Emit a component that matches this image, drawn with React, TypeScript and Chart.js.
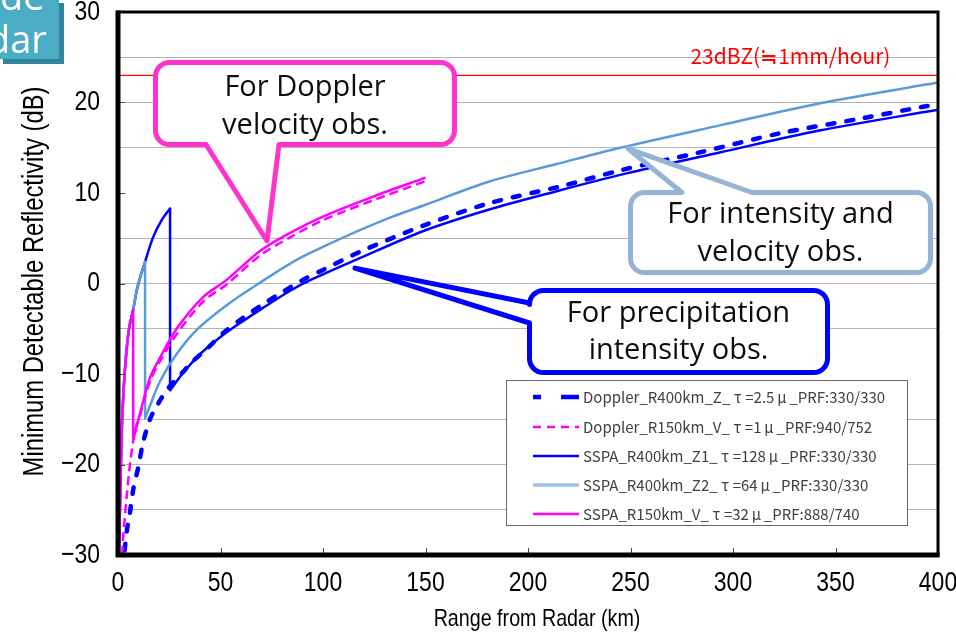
import React, { useEffect, useRef } from "react";
import { Chart, registerables } from "chart.js";

Chart.register(...registerables);

// ---------------- data ----------------
const xTickValues = [0, 50, 100, 150, 200, 250, 300, 350, 400];
const yTickValues = [-30, -20, -10, 0, 10, 20, 30];

const legendLabels = [
  "Doppler_R400km_Z_τ=2.5μ_PRF:330/330",
  "Doppler_R150km_V_τ=1μ_PRF:940/752",
  "SSPA_R400km_Z1_τ=128μ_PRF:330/330",
  "SSPA_R400km_Z2_τ=64μ_PRF:330/330",
  "SSPA_R150km_V_τ=32μ_PRF:888/740",
];

const dopplerZRange = [3.2, 4.4, 5.9, 7.4, 9.9, 12.2, 15.6, 19.5, 24.4, 31.2, 36, 43.4, 52.2, 61, 70.7, 80.5, 90.2, 100, 118, 149, 180, 217, 245, 284, 323, 364, 392, 400];
const dopplerZDb = [-29.5, -27.2, -25.2, -22.8, -20.3, -17.6, -15.0, -13.3, -11.6, -9.9, -8.7, -7.2, -5.3, -3.8, -2.3, -0.9, 0.4, 1.5, 3.5, 6.4, 8.8, 10.8, 12.5, 14.5, 16.6, 18.3, 19.5, 19.8];

const dopplerVRange = [2.0, 2.4, 4.2, 5.9, 8.3, 10.7, 15.6, 20.5, 28.6, 41.5, 53, 69.3, 84, 100, 124.5, 150];
const dopplerVDb = [-30, -28.4, -23.6, -19.9, -16.2, -14.6, -10.8, -8.6, -5.6, -2.0, -0.1, 3.1, 5.1, 7.0, 9.2, 11.3];

// short-pulse (near range) part shared by the three SSPA curves
const sspaNearRange = [0.4, 1.0, 1.8, 2.8, 4.0, 5.4, 7.4, 9.5, 13.2, 17.1, 21.3, 25.4];
const sspaNearDb = [-30, -24.5, -16.5, -11.5, -7.8, -5.0, -2.9, -0.4, 2.4, 5.1, 7.0, 8.3];

const sspaZ1FarRange = [25.4, 28, 32, 40, 50, 60, 70, 84, 95, 116, 149, 181.5, 214, 245, 294, 342, 400];
const sspaZ1FarDb = [-11.8, -11.0, -9.8, -7.8, -5.9, -4.3, -2.8, -0.8, 0.5, 2.6, 5.8, 8.2, 10.2, 12.0, 14.5, 16.9, 19.2];

const sspaZ2FarRange = [13.2, 15.6, 20.5, 28.6, 38.5, 53, 69.3, 84, 94, 113, 133, 150, 181.5, 214, 245, 294, 342, 400];
const sspaZ2FarDb = [-14.9, -13.5, -10.8, -7.8, -5.1, -2.4, 0.1, 2.2, 3.4, 5.4, 7.3, 8.7, 11.3, 13.2, 15.0, 17.5, 19.9, 22.2];

const sspaVFarRange = [7.4, 10.7, 15.6, 20.5, 28.6, 41.5, 53, 69.3, 84, 100, 124.5, 150];
const sspaVFarDb = [-17.3, -14.4, -10.4, -8.2, -5.0, -1.5, 0.4, 3.6, 5.6, 7.4, 9.6, 11.7];

// where each SSPA curve leaves the short-pulse part (range, km)
const sspaZ1SwitchKm = 25.4;
const sspaZ2SwitchKm = 13.2;
const sspaVSwitchKm = 7.4;

const thresholdRange = [0, 400];
const thresholdDb = [23, 23];
const thresholdLabel = "23dBZ(≒1mm/hour)";

// ---------------- styles ----------------
const W = 956;
const H = 636;
const AXIS_FONT = "'Liberation Sans', Arial, sans-serif";
const CALLOUT_FONT = "'Open Sans', 'Noto Sans', sans-serif";
const LEGEND_FONT = "'Noto Sans CJK JP', 'Noto Sans', sans-serif";
const NARROW = 0.82; // horizontal squeeze for the condensed axis lettering

const DARK_BLUE = "#0000FF";
const LIGHT_BLUE = "#5B9BD5";
const MAGENTA = "#FF00FF";

const pts = (xs: number[], ys: number[]) => xs.map((x, i) => ({ x, y: ys[i] }));
const nearUpTo = (km: number) => {
  const n = sspaNearRange.indexOf(km) + 1;
  return pts(sspaNearRange.slice(0, n), sspaNearDb.slice(0, n));
};
const dropAt = (km: number, farRange: number[], farDb: number[]) => {
  const i = sspaNearRange.indexOf(km);
  return [
    { x: sspaNearRange[i], y: sspaNearDb[i] },
    { x: farRange[0], y: farDb[0] },
  ];
};

const fmt = (v: number) => (v < 0 ? "\u2212" + Math.abs(v) : String(v));

function drawNarrow(ctx: CanvasRenderingContext2D, text: string, x: number, y: number, size: number, align: CanvasTextAlign, rotate = 0) {
  ctx.save();
  ctx.translate(x, y);
  if (rotate) ctx.rotate(rotate);
  ctx.scale(NARROW, 1);
  ctx.font = `${size}px ${AXIS_FONT}`;
  ctx.fillStyle = "#000";
  ctx.textAlign = align;
  ctx.textBaseline = "middle";
  ctx.fillText(text, 0, 0);
  ctx.restore();
}

type Callout = {
  lines: string[];
  color: string;
  box: { x: number; y: number; w: number; h: number };
  side: "top" | "bottom" | "left";
  b1: number;
  b2: number;
  tip: { x: number; y: number }; // data coordinates
  textY: number[];
};

const callouts: Callout[] = [
  {
    lines: ["For Doppler", "velocity obs."],
    color: "#FF33CC",
    box: { x: 155.5, y: 62.5, w: 299, h: 82 },
    side: "bottom",
    b1: 206,
    b2: 279,
    tip: { x: 72.7, y: 4.7 },
    textY: [88, 126],
  },
  {
    lines: ["For intensity and", "velocity obs."],
    color: "#95B3D7",
    box: { x: 630.5, y: 192.5, w: 300, h: 80 },
    side: "top",
    b1: 682,
    b2: 752,
    tip: { x: 248.8, y: 14.9 },
    textY: [215, 253],
  },
  {
    lines: ["For precipitation", "intensity obs."],
    color: "#0000FF",
    box: { x: 529.5, y: 290.5, w: 298, h: 82 },
    side: "left",
    b1: 303,
    b2: 323,
    tip: { x: 115.6, y: 1.7 },
    textY: [314, 351],
  },
];

function drawCallout(ctx: CanvasRenderingContext2D, c: Callout, tx: number, ty: number) {
  const { x, y, w, h } = c.box;
  const r = 14;
  ctx.save();
  ctx.beginPath();
  ctx.moveTo(x + r, y);
  if (c.side === "top") {
    ctx.lineTo(c.b1, y);
    ctx.lineTo(tx, ty);
    ctx.lineTo(c.b2, y);
  }
  ctx.lineTo(x + w - r, y);
  ctx.arcTo(x + w, y, x + w, y + r, r);
  ctx.lineTo(x + w, y + h - r);
  ctx.arcTo(x + w, y + h, x + w - r, y + h, r);
  if (c.side === "bottom") {
    ctx.lineTo(c.b2, y + h);
    ctx.lineTo(tx, ty);
    ctx.lineTo(c.b1, y + h);
  }
  ctx.lineTo(x + r, y + h);
  ctx.arcTo(x, y + h, x, y + h - r, r);
  if (c.side === "left") {
    ctx.lineTo(x, c.b2);
    ctx.lineTo(tx, ty);
    ctx.lineTo(x, c.b1);
  }
  ctx.lineTo(x, y + r);
  ctx.arcTo(x, y, x + r, y, r);
  ctx.closePath();
  ctx.fillStyle = "#FFFFFF";
  ctx.fill();
  ctx.lineWidth = 5;
  ctx.lineJoin = "round";
  ctx.strokeStyle = c.color;
  ctx.stroke();
  ctx.fillStyle = "#0D0D0D";
  ctx.font = `29px ${CALLOUT_FONT}`;
  ctx.textAlign = "center";
  ctx.textBaseline = "middle";
  c.lines.forEach((t, i) => ctx.fillText(t, x + w / 2, c.textY[i]));
  ctx.restore();
}

// legend text: Greek letters set in full-width cells as in the reference
function drawLegendText(ctx: CanvasRenderingContext2D, text: string, x: number, y: number, size: number) {
  let cx = x;
  let run = "";
  const flush = () => {
    if (run) {
      ctx.textAlign = "left";
      ctx.fillText(run, cx, y);
      cx += ctx.measureText(run).width;
      run = "";
    }
  };
  for (const ch of text) {
    if (ch === "τ" || ch === "μ") {
      flush();
      ctx.textAlign = "center";
      ctx.fillText(ch, cx + size / 2, y);
      cx += size;
    } else {
      run += ch;
    }
  }
  flush();
}

const decorPlugin = {
  id: "decor",
  beforeDraw(chart: any) {
    const ctx = chart.ctx as CanvasRenderingContext2D;
    ctx.save();
    ctx.fillStyle = "#FFFFFF";
    ctx.fillRect(0, 0, chart.width, chart.height);
    ctx.restore();
  },
  afterDatasetsDraw(chart: any) {
    const ctx = chart.ctx as CanvasRenderingContext2D;
    const { left, right, top, bottom } = chart.chartArea;
    const xs = chart.scales.x;
    const ys = chart.scales.y;

    // threshold label
    ctx.save();
    ctx.fillStyle = "#FF0000";
    ctx.font = `21px ${LEGEND_FONT}`;
    ctx.textAlign = "center";
    ctx.textBaseline = "middle";
    ctx.fillText(thresholdLabel, xs.getPixelForValue(328), ys.getPixelForValue(25) - 1);
    ctx.restore();

    // inner tick marks
    ctx.save();
    ctx.strokeStyle = "#444";
    ctx.lineWidth = 1;
    ctx.beginPath();
    yTickValues.forEach((v) => {
      const py = Math.round(ys.getPixelForValue(v)) + 0.5;
      ctx.moveTo(left, py);
      ctx.lineTo(left + 7, py);
    });
    xTickValues.forEach((v) => {
      const px = Math.round(xs.getPixelForValue(v)) + 0.5;
      ctx.moveTo(px, bottom);
      ctx.lineTo(px, bottom - 7);
    });
    ctx.stroke();
    ctx.restore();

    // frame
    ctx.save();
    ctx.strokeStyle = "#000";
    ctx.lineWidth = 3;
    ctx.strokeRect(left, top, right - left, bottom - top);
    ctx.lineWidth = 5;
    ctx.beginPath();
    ctx.moveTo(left, top - 1.5);
    ctx.lineTo(left, bottom);
    ctx.lineTo(right + 1.5, bottom);
    ctx.stroke();
    ctx.restore();

    // tick labels (condensed lettering)
    yTickValues.forEach((v) => drawNarrow(ctx, fmt(v), left - 18, ys.getPixelForValue(v), 28, "right"));
    xTickValues.forEach((v) => drawNarrow(ctx, fmt(v), xs.getPixelForValue(v), bottom + 28, 28, "center"));

    // legend
    ctx.save();
    ctx.fillStyle = "#FFFFFF";
    ctx.fillRect(506, 380, 402, 146);
    ctx.strokeStyle = "#666";
    ctx.lineWidth = 1;
    ctx.strokeRect(506.5, 380.5, 401, 145);
    const rowY = [397, 427, 456, 485, 514];
    const sx0 = 533;
    const sx1 = 579;
    legendLabels.forEach((lab, i) => {
      const y = rowY[i];
      ctx.save();
      ctx.beginPath();
      if (i === 0) {
        ctx.strokeStyle = DARK_BLUE;
        ctx.lineWidth = 4.5;
        ctx.moveTo(sx0, y);
        ctx.lineTo(sx0 + 8, y);
        ctx.moveTo(sx0 + 28, y);
        ctx.lineTo(sx1, y);
      } else if (i === 1) {
        ctx.strokeStyle = MAGENTA;
        ctx.lineWidth = 2.5;
        ctx.setLineDash([8, 6]);
        ctx.moveTo(sx0, y);
        ctx.lineTo(sx1, y);
      } else {
        ctx.strokeStyle = i === 2 ? DARK_BLUE : i === 3 ? "#9DC3E6" : MAGENTA;
        ctx.lineWidth = i === 3 ? 3.5 : 2.5;
        ctx.moveTo(sx0, y);
        ctx.lineTo(sx1, y);
      }
      ctx.stroke();
      ctx.restore();
      ctx.fillStyle = "#404040";
      ctx.font = `15px ${LEGEND_FONT}`;
      ctx.textBaseline = "middle";
      drawLegendText(ctx, lab, 583, y, 15);
    });
    ctx.restore();

    // callouts
    callouts.forEach((c) => {
      drawCallout(ctx, c, xs.getPixelForValue(c.tip.x), ys.getPixelForValue(c.tip.y));
    });
  },
  afterDraw(chart: any) {
    const ctx = chart.ctx as CanvasRenderingContext2D;
    const { top, bottom } = chart.chartArea;
    // axis titles
    drawNarrow(ctx, "Range from Radar (km)", 537, 619, 24, "center");
    drawNarrow(ctx, "Minimum Detectable Reflectivity (dB)", 35, (top + bottom) / 2 - 2, 29, "center", -Math.PI / 2);

    // teal slide fragment in the corner
    ctx.save();
    ctx.fillStyle = "#31849B";
    ctx.fillRect(3, 3, 61, 61);
    ctx.fillStyle = "#4BACC6";
    ctx.fillRect(0, 0, 59, 59);
    ctx.beginPath();
    ctx.rect(0, 0, 59, 59);
    ctx.clip();
    ctx.fillStyle = "#FFFFFF";
    ctx.font = `38px ${CALLOUT_FONT}`;
    ctx.textAlign = "left";
    ctx.textBaseline = "alphabetic";
    ctx.fillText("de", 0, 10);
    ctx.fillText("dar", -13, 53);
    ctx.restore();
  },
};

export default function App() {
  const ref = useRef<HTMLCanvasElement>(null);

  useEffect(() => {
    const canvas = ref.current;
    if (!canvas) return;
    const line = (label: string, data: { x: number; y: number }[], color: string, width: number, dash: number[], order: number, tension: number, cap = "butt") => ({
      label,
      data,
      showLine: true,
      borderColor: color,
      backgroundColor: color,
      borderWidth: width,
      borderDash: dash,
      borderCapStyle: cap,
      borderJoinStyle: "round",
      pointRadius: 0,
      pointHoverRadius: 0,
      fill: false,
      tension,
      order,
    });
    const T = 0.3;

    const chart = new Chart(canvas, {
      type: "scatter",
      data: {
        datasets: [
          // SSPA V (magenta solid)
          line(legendLabels[4], nearUpTo(sspaVSwitchKm), MAGENTA, 2.5, [], 0, T) as any,
          line(legendLabels[4], dropAt(sspaVSwitchKm, sspaVFarRange, sspaVFarDb), MAGENTA, 2.5, [], 1, 0) as any,
          line(legendLabels[4], pts(sspaVFarRange, sspaVFarDb), MAGENTA, 2.5, [], 2, T) as any,
          // Doppler V (magenta dashed)
          line(legendLabels[1], pts(dopplerVRange, dopplerVDb), MAGENTA, 2.5, [9, 5], 3, T) as any,
          // Doppler Z (blue thick dashed)
          line(legendLabels[0], pts(dopplerZRange, dopplerZDb), DARK_BLUE, 4.5, [7, 12], 4, T, "round") as any,
          // SSPA Z2 (light blue)
          line(legendLabels[3], nearUpTo(sspaZ2SwitchKm), LIGHT_BLUE, 2.5, [], 5, T) as any,
          line(legendLabels[3], dropAt(sspaZ2SwitchKm, sspaZ2FarRange, sspaZ2FarDb), LIGHT_BLUE, 2.5, [], 6, 0) as any,
          line(legendLabels[3], pts(sspaZ2FarRange, sspaZ2FarDb), LIGHT_BLUE, 2.5, [], 7, T) as any,
          // SSPA Z1 (blue solid)
          line(legendLabels[2], nearUpTo(sspaZ1SwitchKm), DARK_BLUE, 2.5, [], 8, T) as any,
          line(legendLabels[2], dropAt(sspaZ1SwitchKm, sspaZ1FarRange, sspaZ1FarDb), DARK_BLUE, 2.5, [], 9, 0) as any,
          line(legendLabels[2], pts(sspaZ1FarRange, sspaZ1FarDb), DARK_BLUE, 2.5, [], 10, T) as any,
          // 23 dBZ reference line
          line("23dBZ", pts(thresholdRange, thresholdDb), "#FF0000", 1.3, [], 11, 0) as any,
        ],
      },
      options: {
        responsive: false,
        maintainAspectRatio: false,
        animation: false,
        devicePixelRatio: 1,
        events: [],
        layout: { padding: { top: 12, right: 18, left: 0, bottom: 0 } },
        plugins: { legend: { display: false }, tooltip: { enabled: false }, title: { display: false } },
        scales: {
          x: {
            type: "linear",
            min: 0,
            max: 400,
            grid: { display: false, drawTicks: false },
            border: { display: false },
            ticks: { stepSize: 50, autoSkip: false, maxRotation: 0, display: false },
            afterFit: (s: any) => {
              s.height = 81;
              s.paddingLeft = 0;
              s.paddingRight = 0;
            },
          },
          y: {
            type: "linear",
            min: -30,
            max: 30,
            grid: {
              drawTicks: false,
              lineWidth: 1,
              color: (c: any) => {
                const v = c.tick ? c.tick.value : 0;
                return Math.abs(v) === 10 || Math.abs(v) === 30 ? "rgba(0,0,0,0)" : "#B4B4B4";
              },
            },
            border: { display: false },
            ticks: { stepSize: 5, autoSkip: false, display: false },
            afterFit: (s: any) => {
              s.width = 118;
              s.paddingTop = 0;
              s.paddingBottom = 0;
            },
          },
        },
      },
      plugins: [decorPlugin],
    });
    return () => chart.destroy();
  }, []);

  return (
    <div style={{ position: "absolute", left: 0, top: 0, width: W, height: H, background: "#fff" }}>
      <canvas ref={ref} width={W} height={H} style={{ width: W, height: H, display: "block" }} />
    </div>
  );
}
